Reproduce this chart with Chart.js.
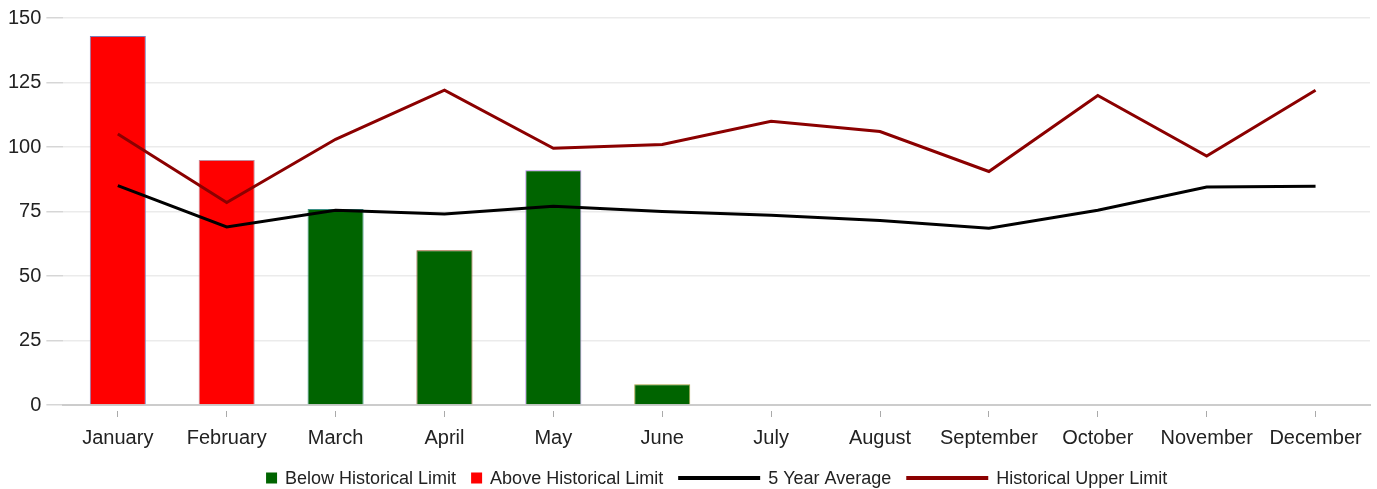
<!DOCTYPE html>
<html>
<head>
<meta charset="utf-8">
<script src="https://cdn.jsdelivr.net/npm/chart.js@4"></script>
<style>
    html, body { margin: 0; padding: 0; background: #fff; }
    #wrap { width: 1377px; height: 489px; }
</style>
</head>
<body>
<div id="wrap"><canvas id="chart" width="1377" height="489"></canvas></div>
<script>
const months = ['January', 'February', 'March', 'April', 'May', 'June', 'July', 'August', 'September', 'October', 'November', 'December'];
const belowLimit = [null, null, 76, 60, 91, 8, null, null, null, null, null, null];
const aboveLimit = [143, 95, null, null, null, null, null, null, null, null, null, null];
const fiveYearAvg = [85, 69, 75.5, 74, 77, 75, 73.5, 71.5, 68.5, 75.5, 84.5, 84.8];
const upperLimit = [105, 78.5, 103, 122, 99.5, 101, 110, 106, 90.5, 120, 96.5, 122];
const yTicks = [0, 25, 50, 75, 100, 125, 150];

const barBorders = ['#7a7fb8', '#c08a9a', '#3a8f86', '#8a4a1a', '#b07ae8', '#a8a040', null, null, null, null, null, null];

const FONT = '"Liberation Sans", Arial, sans-serif';

// legend drawn by hand: squares for bars, long strokes for lines
const bottomLegend = {
    id: 'bottomLegend',
    afterDraw(chart) {
        const ctx = chart.ctx;
        const area = chart.chartArea;
        ctx.save();
        ctx.font = '18px ' + FONT;
        ctx.textBaseline = 'middle';
        const items = chart.data.datasets.map(ds => ({
            text: ds.label,
            color: ds.legendColor,
            isLine: ds.type === 'line',
            markW: ds.type === 'line' ? 82 : 11
        }));
        const gap = 8, itemGap = 15;
        let total = 0;
        items.forEach((it, i) => {
            it.w = it.markW + gap + ctx.measureText(it.text).width;
            total += it.w + (i ? itemGap : 0);
        });
        let x = (area.left + area.right) / 2 - total / 2;
        const y = 478;
        items.forEach(it => {
            ctx.fillStyle = it.color;
            if (it.isLine) {
                ctx.fillRect(x, y - 2, it.markW, 4);
            } else {
                ctx.fillRect(x, y - 5.5, 11, 11);
            }
            ctx.fillStyle = '#222';
            ctx.fillText(it.text, x + it.markW + gap, y + 1);
            x += it.w + itemGap;
        });
        ctx.restore();
    }
};

new Chart(document.getElementById('chart'), {
    data: {
        labels: months,
        datasets: [
            {
                type: 'bar',
                label: 'Below Historical Limit',
                data: belowLimit,
                backgroundColor: '#006400',
                borderColor: barBorders,
                borderWidth: 1,
                legendColor: '#006400',
                order: 3
            },
            {
                type: 'bar',
                label: 'Above Historical Limit',
                data: aboveLimit,
                backgroundColor: '#ff0000',
                borderColor: barBorders,
                borderWidth: 1,
                legendColor: '#ff0000',
                order: 3
            },
            {
                type: 'line',
                label: '5 Year Average',
                data: fiveYearAvg,
                borderColor: '#000000',
                borderWidth: 3,
                pointRadius: 0,
                tension: 0,
                legendColor: '#000000',
                order: 1
            },
            {
                type: 'line',
                label: 'Historical Upper Limit',
                data: upperLimit,
                borderColor: '#8b0000',
                borderWidth: 3,
                pointRadius: 0,
                tension: 0,
                legendColor: '#8b0000',
                order: 2
            }
        ]
    },
    options: {
        responsive: false,
        animation: false,
        datasets: {
            bar: { categoryPercentage: 1, barPercentage: 0.515 }
        },
        layout: { padding: { left: 3, right: 7, top: 18, bottom: 30 } },
        plugins: {
            legend: { display: false },
            tooltip: { enabled: false }
        },
        scales: {
            x: {
                stacked: true,
                offset: true,
                border: { display: true, color: '#cccccc', width: 2 },
                grid: {
                    offset: false,
                    drawOnChartArea: false,
                    tickLength: 12,
                    tickColor: '#aaaaaa',
                    tickBorderDash: [0, 5, 7, 100]
                },
                ticks: {
                    color: '#222',
                    font: { family: FONT, size: 20 },
                    padding: 9,
                    maxRotation: 0,
                    autoSkip: false
                }
            },
            y: {
                min: 0,
                max: 150,
                afterBuildTicks(scale) {
                    scale.ticks = yTicks.map(v => ({ value: v }));
                },
                border: { display: false },
                grid: {
                    color: '#ebebeb',
                    lineWidth: 1.5,
                    tickLength: 17,
                    tickColor: '#d6d6d6'
                },
                ticks: {
                    color: '#222',
                    font: { family: FONT, size: 20 },
                    padding: 5
                }
            }
        }
    },
    plugins: [bottomLegend]
});
</script>
</body>
</html>
